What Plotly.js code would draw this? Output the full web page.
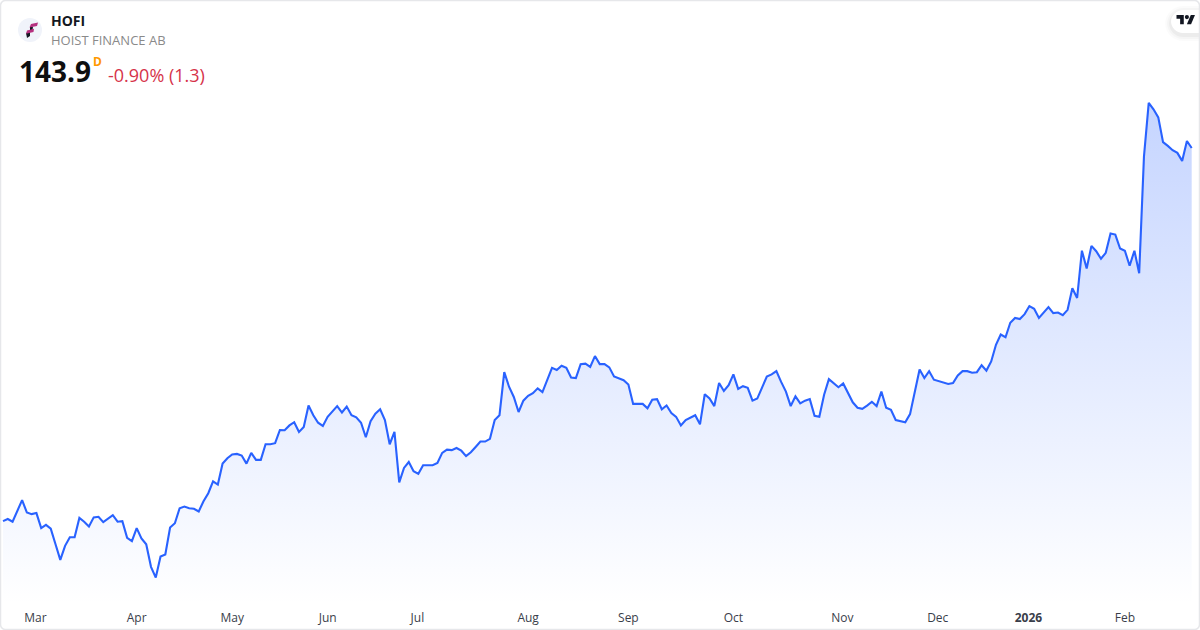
<!DOCTYPE html>
<html><head><meta charset="utf-8">
<script src="https://cdn.plot.ly/plotly-3.0.1.min.js"></script>
<style>html,body{margin:0;padding:0;background:#fff}#c{width:1200px;height:630px}</style>
</head><body><div id="c"></div>
<script>
const prices = [
74.5,74.9,74.4,76.4,78.4,76.1,75.8,76.0,73.2,73.8,73.1,70.2,67.3,69.9,71.5,71.5,75.1,74.4,73.5,75.2,
75.3,74.3,75.0,75.6,74.4,74.5,71.4,70.8,73.2,71.3,70.2,66.0,64.0,67.9,68.3,73.3,74.1,76.9,77.2,76.9,
76.8,76.3,78.2,79.7,81.9,81.3,85.2,86.2,86.9,87.0,86.7,85.2,87.2,85.9,85.9,88.8,88.8,89.0,
91.45,91.4,92.3,92.9,91.1,
92.0,96.0,94.2,92.8,92.2,93.9,94.9,95.9,94.7,95.8,94.2,93.8,92.8,90.1,93.1,94.5,95.3,93.3,88.8,91.1,
81.7,84.4,85.5,83.8,83.3,84.9,84.9,84.9,85.3,87.2,87.8,87.7,88.1,87.6,86.6,87.3,88.3,89.3,89.3,89.8,
93.3,94.2,102.2,99.5,97.6,94.8,96.9,97.8,98.3,99.2,98.5,100.6,103.0,102.6,103.4,103.0,101.2,101.1,103.7,103.8,
103.2,105.2,103.7,
103.7,103.1,101.4,101.1,100.7,99.9,96.3,96.3,96.3,95.5,97.1,97.2,95.3,96.0,94.6,93.9,92.3,93.3,93.7,94.2,
92.5,98.1,97.3,95.9,100.2,98.7,99.8,101.8,99.1,99.6,99.3,96.9,97.3,99.5,101.4,101.8,102.4,100.4,98.6,95.9,
97.7,96.4,96.9,97.2,94.1,93.9,98.0,100.9,100.1,99.4,100.1,98.3,96.6,95.6,95.4,96.0,96.7,95.9,98.6,95.6,
95.2,93.3,93.1,
92.9,94.4,98.3,102.7,101.1,102.4,100.8,100.5,100.2,100.0,100.2,101.6,102.4,102.4,102.1,102.2,103.5,102.5,104.2,107.3,
109.2,108.7,111.4,112.3,112.1,113.0,114.5,114.0,112.3,113.4,114.3,113.2,113.3,112.8,113.8,117.8,116.0,124.8,121.5,125.7,
124.7,123.3,124.4,128.0,127.8,125.2,124.8,122.0,124.8,120.6,
142.3,152.3,151.1,149.6,145.0,144.3,143.5,143.0,141.5,145.2,143.9];
const sessionIndex = prices.map((_, i) => i);
const tickIndex = [6.8,28,48,68,86.8,110,131,153,175.8,195.8,214.8,235];
const tickLabels = ['Mar','Apr','May','Jun','Jul','Aug','Sep','Oct','Nov','Dec','<b>2026</b>','Feb'];
const symbol = 'HOFI', company = 'HOIST FINANCE AB', lastPrice = '143.9', interval = 'D', change = '-0.90% (1.3)';

const W = 1200, H = 630;
const px = x => x / W, py = y => 1 - y / H;
const poly = pts => 'M' + pts.map(p => px(p[0]) + ',' + py(p[1])).join('L') + 'Z';
function rrect(x0, y0, x1, y1, r) {
  const k = r * 0.45, P = (x, y) => px(x) + ',' + py(y);
  return 'M' + P(x0 + r, y0) + 'L' + P(x1 - r, y0) + 'C' + P(x1 - k, y0) + ' ' + P(x1, y0 + k) + ' ' + P(x1, y0 + r) +
    'L' + P(x1, y1 - r) + 'C' + P(x1, y1 - k) + ' ' + P(x1 - k, y1) + ' ' + P(x1 - r, y1) +
    'L' + P(x0 + r, y1) + 'C' + P(x0 + k, y1) + ' ' + P(x0, y1 - k) + ' ' + P(x0, y1 - r) +
    'L' + P(x0, y0 + r) + 'C' + P(x0, y0 + k) + ' ' + P(x0 + k, y0) + ' ' + P(x0 + r, y0) + 'Z';
}
function pill(x0, y0, x1, y1, r) {
  const k = r * 0.45, P = (x, y) => px(x) + ',' + py(y);
  return 'M' + P(x0 + r, y0) + 'L' + P(x1, y0) + 'L' + P(x1, y1) + 'L' + P(x0 + r, y1) +
    'C' + P(x0 + k, y1) + ' ' + P(x0, y1 - k) + ' ' + P(x0, y1 - r) +
    'L' + P(x0, y0 + r) + 'C' + P(x0, y0 + k) + ' ' + P(x0 + k, y0) + ' ' + P(x0 + r, y0) + 'Z';
}
const tv = (x, y) => [1176.5 + x * 0.52, 15 + (y - 4) * 0.52];
const shapes = [];
[[6, .015], [4, .025], [2, .035]].forEach(([g, a]) => shapes.push({type:'path', path:pill(1171 - g, 10 - g + 2, 1199, 33 + g + 2, 12 + g), fillcolor:`rgba(0,0,0,${a})`, line:{width:0}}));
shapes.push({type:'path', path:pill(1171, 10, 1199, 33, 12), fillcolor:'#ffffff', line:{width:0}});
shapes.push({type:'path', path:poly([[0,4],[14,4],[14,22],[7,22],[7,11],[0,11]].map(p => tv(p[0], p[1]))), fillcolor:'#131722', line:{width:0}});
shapes.push({type:'path', path:poly([[27.5,4],[35.5,4],[28,22],[20,22]].map(p => tv(p[0], p[1]))), fillcolor:'#131722', line:{width:0}});
shapes.push({type:'circle', x0:px(tv(16,0)[0]), x1:px(tv(24,0)[0]), y0:py(tv(0,12)[1]), y1:py(tv(0,4)[1]), fillcolor:'#131722', line:{width:0}});
shapes.push({type:'circle', x0:px(18), x1:px(42), y0:py(42), y1:py(18), fillcolor:'#f0f3fa', line:{width:0}});
shapes.push({type:'path', path:poly([[30,27],[33,26.5],[32.5,30],[30,30.5]]), fillcolor:'#131722', line:{width:0}});
shapes.push({type:'path', path:poly([[26,33],[30,32],[30,36],[27,38]]), fillcolor:'#131722', line:{width:0}});
shapes.push({type:'path', path:poly([[31,24],[38,22.5],[37,26],[29.5,27.5]]), fillcolor:'#b5307f', line:{width:0}});
shapes.push({type:'path', path:poly([[27,30.5],[34,28.8],[33.5,32],[26,33.8]]), fillcolor:'#b5307f', line:{width:0}});
shapes.push({type:'path', path:rrect(0.5, 0.5, 1199.5, 629.5, 5), fillcolor:'rgba(0,0,0,0)', line:{color:'#e6e7ea', width:1.5}});
shapes.forEach(s => { s.xref = 'paper'; s.yref = 'paper'; s.layer = 'above'; });

const font = '"Open Sans","Noto Sans",sans-serif';
const note = (text, x, y, size, color, extra) => Object.assign({text, x:px(x), y:py(y), xref:'paper', yref:'paper', xanchor:'left', yanchor:'middle', showarrow:false, borderpad:0, font:{family:font, size, color}}, extra || {});

Plotly.newPlot('c', [{
  x: sessionIndex, y: prices, type:'scatter', mode:'lines', hoverinfo:'skip',
  line:{color:'#2962ff', width:2.1, shape:'linear'},
  fill:'tozeroy',
  fillgradient:{type:'vertical', start:58.9, stop:152.3,
    colorscale:[[0,'rgba(41,98,255,0)'],[1,'rgba(41,98,255,0.27)']]}
}], {
  width:W, height:H, margin:{l:0,r:0,t:0,b:0,pad:0}, showlegend:false,
  paper_bgcolor:'#ffffff', plot_bgcolor:'#ffffff',
  xaxis:{domain:[0,1], range:[-0.63,250.74], tickmode:'array', tickvals:tickIndex, ticktext:tickLabels,
    showgrid:false, zeroline:false, showline:false, ticks:'', automargin:false, tickangle:0, ticklabelstandoff:4,
    tickfont:{family:font, size:12, color:'#3a3e4a'}},
  yaxis:{domain:[25/630,1], range:[58.9,171.43], visible:false, fixedrange:true},
  shapes,
  annotations:[
    note('<b>'+symbol+'</b>', 50, 21, 14, '#131722'),
    note(company, 50, 40.5, 13, '#8a8a8a'),
    note('<b>'+lastPrice+'</b>', 18, 71, 28, '#0f0f0f'),
    note('<b>'+interval+'</b>', 92, 61.5, 12, '#ff9800'),
    note(change, 107, 74.5, 18, '#d6334a')
  ]
}, {displayModeBar:false, staticPlot:true});
</script></body></html>
